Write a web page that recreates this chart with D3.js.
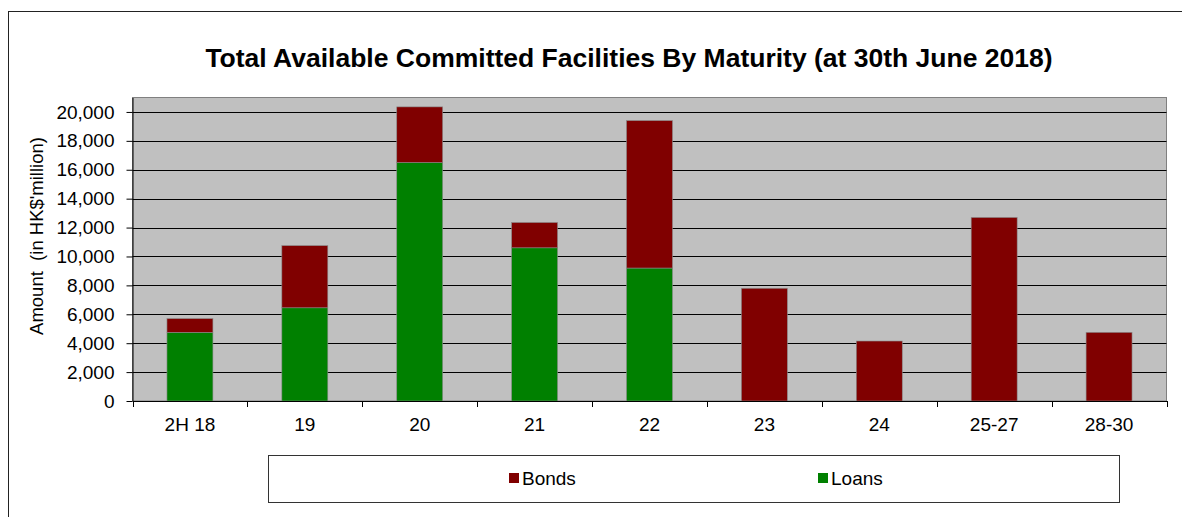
<!DOCTYPE html>
<html>
<head>
    <title>Total Available Committed Facilities By Maturity</title>
    <script src="https://d3js.org/d3.v7.min.js"></script>
    <style>
        body { margin: 0; background: #fff; }
        text { font-family: "Liberation Sans", Arial, sans-serif; fill: #000; }
        .grid line { stroke: #000; stroke-width: 1px; }
    </style>
</head>
<body>
<script>
    // data (HK$ million)
    var categories = ["2H 18", "19", "20", "21", "22", "23", "24", "25-27", "28-30"];
    var loans = [4750, 6450, 16500, 10600, 9200, 0, 0, 0, 0];
    var bonds = [950, 4300, 3850, 1750, 10200, 7800, 4150, 12700, 4750];
    var yTicks = [0, 2000, 4000, 6000, 8000, 10000, 12000, 14000, 16000, 18000, 20000];
    var seriesNames = ["Bonds", "Loans"];
    var colors = {Bonds: "#800000", Loans: "#008000"};

    var W = 1182, H = 517;
    var plotL = 132.5, plotR = 1166.5, plotT = 97.5, plotB = 401;

    var svg = d3.select("body").append("svg")
        .attr("width", W)
        .attr("height", H);

    // outer chart frame (runs off the right and bottom edges)
    svg.append("rect")
        .attr("x", 8.5).attr("y", 11.5)
        .attr("width", W + 20).attr("height", H + 20)
        .attr("fill", "#fff")
        .attr("stroke", "#222");

    svg.append("text")
        .attr("x", 629)
        .attr("y", 67)
        .attr("text-anchor", "middle")
        .style("font-size", "26.5px")
        .style("font-weight", "bold")
        .text("Total Available Committed Facilities By Maturity (at 30th June 2018)");

    var x = d3.scaleBand()
        .domain(categories)
        .range([plotL, plotR])
        .paddingInner(0.6)
        .paddingOuter(0.3);

    var xb = d3.scaleBand().domain(categories).range([plotL, plotR]);

    var y = d3.scaleLinear()
        .domain([0, 21000])
        .range([plotB, plotT]);

    // plot background
    svg.append("rect")
        .attr("x", plotL).attr("y", plotT)
        .attr("width", plotR - plotL).attr("height", plotB - plotT)
        .attr("fill", "#c0c0c0")
        .attr("stroke", "#808080");

    // gridlines
    svg.append("g")
        .attr("class", "grid")
        .selectAll("line")
        .data(yTicks.slice(1))
        .enter()
        .append("line")
        .attr("x1", plotL).attr("x2", plotR)
        .attr("y1", d => Math.round(y(d)) + 0.5)
        .attr("y2", d => Math.round(y(d)) + 0.5);

    var table = categories.map((c, i) => ({cat: c, Loans: loans[i], Bonds: bonds[i]}));
    var stacked = d3.stack().keys(["Loans", "Bonds"])(table);

    svg.append("g")
        .selectAll("g")
        .data(stacked)
        .enter()
        .append("g")
        .attr("fill", d => colors[d.key])
        .selectAll("rect")
        .data(d => d)
        .enter()
        .append("rect")
        .attr("x", d => x(d.data.cat))
        .attr("width", x.bandwidth())
        .attr("y", d => y(d[1]))
        .attr("height", d => y(d[0]) - y(d[1]))
        .attr("stroke", d => (d[1] - d[0]) > 0 ? "#8a8a8a" : "none")
        .attr("stroke-width", 0.6);

    // y axis
    var yAxis = svg.append("g")
        .attr("transform", "translate(" + plotL + ",0)")
        .call(d3.axisLeft(y).tickValues(yTicks).tickFormat(d3.format(",")).tickSizeInner(6).tickSizeOuter(0).tickPadding(12));
    yAxis.select(".domain").attr("stroke", "#000");
    yAxis.selectAll("line").attr("stroke", "#000");
    yAxis.selectAll("text")
        .style("font-size", "19px")
        .attr("font-family", null);

    // x axis: ticks sit on the category boundaries
    var xAxis = svg.append("g")
        .attr("transform", "translate(0," + plotB + ")")
        .call(d3.axisBottom(xb).tickSize(0).tickPadding(17));
    xAxis.select(".domain").attr("stroke", "#000");
    xAxis.selectAll("text")
        .style("font-size", "19px")
        .attr("font-family", null);
    xAxis.selectAll(".sep")
        .data(categories.concat(["end"]))
        .enter()
        .append("line")
        .attr("x1", (d, i) => Math.round(plotL + i * xb.step()) + 0.5)
        .attr("x2", (d, i) => Math.round(plotL + i * xb.step()) + 0.5)
        .attr("y1", 0).attr("y2", 6)
        .attr("stroke", "#000");

    svg.append("text")
        .attr("transform", "translate(43,236) rotate(-90)")
        .attr("text-anchor", "middle")
        .style("font-size", "18.5px")
        .style("white-space", "pre")
        .text("Amount  (in HK$'million)");

    // legend
    svg.append("rect")
        .attr("x", 268.5).attr("y", 455.5)
        .attr("width", 851).attr("height", 47)
        .attr("fill", "#fff")
        .attr("stroke", "#333");

    var legendX = [509, 818];
    var legend = svg.append("g")
        .selectAll("g")
        .data(seriesNames)
        .enter()
        .append("g")
        .attr("transform", (d, i) => "translate(" + legendX[i] + ",478)");
    legend.append("rect")
        .attr("x", 0).attr("y", -5)
        .attr("width", 10).attr("height", 10)
        .attr("fill", d => colors[d]);
    legend.append("text")
        .attr("x", 13).attr("y", 7)
        .style("font-size", "19px")
        .text(d => d);
</script>
</body>
</html>
